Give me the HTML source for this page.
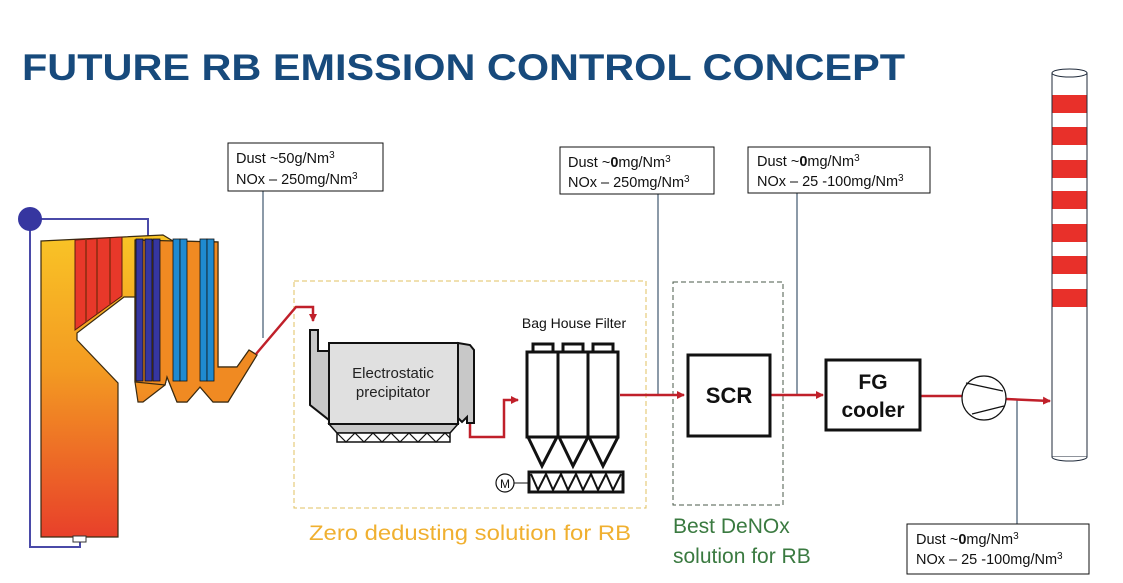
<!DOCTYPE html>
<html><head><meta charset="utf-8"><style>
html,body{margin:0;padding:0;background:#fff;}
svg{display:block;}
text{font-family:"Liberation Sans",Arial,sans-serif;}
</style></head><body>
<svg width="1123" height="583" viewBox="0 0 1123 583" xmlns="http://www.w3.org/2000/svg">
<defs>
<linearGradient id="fg" x1="0" y1="0" x2="0" y2="1">
<stop offset="0" stop-color="#f9c426"/><stop offset="0.45" stop-color="#f39a22"/><stop offset="1" stop-color="#e8402a"/>
</linearGradient>
<marker id="ar" markerWidth="8" markerHeight="8" refX="7" refY="4" orient="auto" markerUnits="userSpaceOnUse"><path d="M0,0 L8,4 L0,8 z" fill="#c0202a"/></marker>
</defs>
<rect width="1123" height="583" fill="#fff"/>
<text x="22" y="80" font-size="37" font-weight="bold" fill="#174a7c" textLength="883" lengthAdjust="spacingAndGlyphs">FUTURE RB EMISSION CONTROL CONCEPT</text>

<polyline points="30,219 148,219 148,238" fill="none" stroke="#4a4aa8" stroke-width="2"/>
<polyline points="30,219 30,547 80,547 80,540" fill="none" stroke="#4a4aa8" stroke-width="2"/>
<circle cx="30" cy="219" r="12" fill="#3636a0"/>
<path d="M41,241 L163,235 L173,241 L218,242 L218,367 L237,367 L249,350 L257,355 L228,402 L213,402 L200,387 L187,402 L177,402 L167,377 L165,385 L143,402 L138,402 L135,382 L135,297 L124,297 L77,333 L77,340 L118,383 L118,537 L41,537 Z" fill="url(#fg)" stroke="#3a2a10" stroke-width="1.2"/>
<path d="M135,297 L135,382 L165,385 L167,377 L177,402 L187,402 L200,387 L213,402 L228,402 L257,355 L249,350 L237,367 L218,367 L218,242 L135,240 Z" fill="#f08a22" stroke="#3a2a10" stroke-width="1.2"/>
<rect x="73" y="536" width="13" height="6" fill="#fff" stroke="#333" stroke-width="1"/>
<path d="M75,240 L122,237 L122,296 L75,330 Z" fill="#e8382a" stroke="#5a1a10" stroke-width="1"/>
<line x1="86" y1="239" x2="86" y2="322" stroke="#8a2a10" stroke-width="1.5"/>
<line x1="97" y1="239" x2="97" y2="314" stroke="#8a2a10" stroke-width="1.5"/>
<line x1="110" y1="238" x2="110" y2="305" stroke="#8a2a10" stroke-width="1.5"/>
<rect x="136" y="239" width="7" height="142" fill="#3636a0" stroke="#111" stroke-width="0.8"/>
<rect x="145" y="239" width="7" height="142" fill="#3636a0" stroke="#111" stroke-width="0.8"/>
<rect x="153" y="239" width="7" height="142" fill="#3636a0" stroke="#111" stroke-width="0.8"/>
<rect x="173" y="239" width="7" height="142" fill="#1f8ad0" stroke="#111" stroke-width="0.8"/>
<rect x="180" y="239" width="7" height="142" fill="#1f8ad0" stroke="#111" stroke-width="0.8"/>
<rect x="200" y="239" width="7" height="142" fill="#1f8ad0" stroke="#111" stroke-width="0.8"/>
<rect x="207" y="239" width="7" height="142" fill="#1f8ad0" stroke="#111" stroke-width="0.8"/>

<g stroke="#1a3550" stroke-width="1" fill="none">
<line x1="263" y1="191" x2="263" y2="338"/>
<line x1="658" y1="194" x2="658" y2="395"/>
<line x1="797" y1="193" x2="797" y2="395"/>
<line x1="1017" y1="399" x2="1017" y2="524"/>
</g>

<rect x="294" y="281" width="352" height="227" fill="none" stroke="#e0c060" stroke-width="1" stroke-dasharray="5,3"/>
<rect x="673" y="282" width="110" height="223" fill="none" stroke="#4a5a4a" stroke-width="1" stroke-dasharray="5,3"/>

<g stroke="#c0202a" stroke-width="2.5" fill="none">
<polyline points="256,354 296,307 313,307 313,321" marker-end="url(#ar)"/>
<polyline points="470,424 470,437 504,437 504,400 518,400" marker-end="url(#ar)"/>
<line x1="620" y1="395" x2="684" y2="395" marker-end="url(#ar)"/>
<line x1="770" y1="395" x2="823" y2="395" marker-end="url(#ar)"/>
<line x1="920" y1="396" x2="962" y2="396"/>
<line x1="1006" y1="399" x2="1050" y2="401" marker-end="url(#ar)"/>
</g>

<path d="M310,330 L318,330 L318,351 L329,351 L329,420 L310,405 Z" fill="#c8c8c8" stroke="#111" stroke-width="2"/>
<path d="M329,424 L458,424 L450,433 L337,433 Z" fill="#c8c8c8" stroke="#111" stroke-width="1.5"/>
<rect x="329" y="343" width="129" height="81" fill="#e0e0e0" stroke="#111" stroke-width="2"/>
<path d="M458,343 L470,345 L474,350 L474,423 L467,423 L467,417 L462,422 L458,418 Z" fill="#c8c8c8" stroke="#111" stroke-width="2"/>
<rect x="337" y="433" width="113" height="9" fill="#fff" stroke="#111" stroke-width="1.5"/>
<polyline points="337,433 346,442 355,433 364,442 373,433 382,442 391,433 400,442 409,433 418,442 427,433 436,442 445,433 450,438" fill="none" stroke="#111" stroke-width="1.2"/>
<text x="393" y="378" font-size="15" text-anchor="middle" fill="#222">Electrostatic</text>
<text x="393" y="397" font-size="15" text-anchor="middle" fill="#222">precipitator</text>

<text x="574" y="328" font-size="14" text-anchor="middle" fill="#111">Bag House Filter</text>
<g stroke="#111" stroke-width="3" fill="#fff">
<rect x="533" y="344" width="20" height="8"/>
<rect x="563" y="344" width="20" height="8"/>
<rect x="593" y="344" width="20" height="8"/>
<rect x="527" y="352" width="91" height="85"/>
<line x1="558" y1="352" x2="558" y2="437"/>
<line x1="588" y1="352" x2="588" y2="437"/>
<polyline points="528,437 542,466 557,437" fill="none"/>
<polyline points="559,437 573,466 588,437" fill="none"/>
<polyline points="589,437 603,466 618,437" fill="none"/>
<rect x="529" y="472" width="94" height="20"/>
</g>
<polyline points="531,474 538,490 546,474 553,490 561,474 568,490 576,474 583,490 591,474 598,490 606,474 613,490 621,474" fill="none" stroke="#111" stroke-width="2"/>
<line x1="514" y1="483" x2="529" y2="483" stroke="#111" stroke-width="1"/>
<circle cx="505" cy="483" r="9" fill="#fff" stroke="#111" stroke-width="1.2"/>
<text x="505" y="488" font-size="12" text-anchor="middle" fill="#111">M</text>

<rect x="688" y="355" width="82" height="81" fill="#fff" stroke="#111" stroke-width="3"/>
<text x="729" y="403" font-size="22" font-weight="bold" text-anchor="middle" fill="#111">SCR</text>
<rect x="826" y="360" width="94" height="70" fill="#fff" stroke="#111" stroke-width="3"/>
<text x="873" y="389" font-size="21" font-weight="bold" text-anchor="middle" fill="#111">FG</text>
<text x="873" y="417" font-size="21" font-weight="bold" text-anchor="middle" fill="#111">cooler</text>

<circle cx="984" cy="398" r="22" fill="#fff" stroke="#111" stroke-width="1.2"/>
<line x1="966" y1="383" x2="1003" y2="391" stroke="#111" stroke-width="1.2"/>
<line x1="972" y1="414" x2="1004" y2="406" stroke="#111" stroke-width="1.2"/>

<rect x="1052" y="73" width="35" height="384" fill="#fff" stroke="#1f2a3a" stroke-width="1"/>
<g fill="#e8302a">
<rect x="1052.5" y="95" width="34" height="18"/>
<rect x="1052.5" y="127" width="34" height="18"/>
<rect x="1052.5" y="160" width="34" height="18"/>
<rect x="1052.5" y="191" width="34" height="18"/>
<rect x="1052.5" y="224" width="34" height="18"/>
<rect x="1052.5" y="256" width="34" height="18"/>
<rect x="1052.5" y="289" width="34" height="18"/>
</g>
<ellipse cx="1069.5" cy="73" rx="17.5" ry="4" fill="#fff" stroke="#1f2a3a" stroke-width="1"/>
<path d="M1052,457 A17.5,4 0 0 0 1087,457" fill="#fff" stroke="#1f2a3a" stroke-width="1"/>

<g fill="#fff" stroke="#111" stroke-width="1">
<rect x="228" y="143" width="155" height="48"/>
<rect x="560" y="147" width="154" height="47"/>
<rect x="748" y="147" width="182" height="46"/>
<rect x="907" y="524" width="182" height="50"/>
</g>
<g font-size="14.5" fill="#111">
<text x="236" y="163">Dust ~50g/Nm<tspan font-size="10" dy="-5">3</tspan></text>
<text x="236" y="184">NOx – 250mg/Nm<tspan font-size="10" dy="-5">3</tspan></text>
<text x="568" y="167">Dust ~<tspan font-weight="bold">0</tspan>mg/Nm<tspan font-size="10" dy="-5">3</tspan></text>
<text x="568" y="187">NOx – 250mg/Nm<tspan font-size="10" dy="-5">3</tspan></text>
<text x="757" y="166">Dust ~<tspan font-weight="bold">0</tspan>mg/Nm<tspan font-size="10" dy="-5">3</tspan></text>
<text x="757" y="186">NOx – 25 -100mg/Nm<tspan font-size="10" dy="-5">3</tspan></text>
<text x="916" y="544">Dust ~<tspan font-weight="bold">0</tspan>mg/Nm<tspan font-size="10" dy="-5">3</tspan></text>
<text x="916" y="564">NOx – 25 -100mg/Nm<tspan font-size="10" dy="-5">3</tspan></text>
</g>

<text x="309" y="540" font-size="21" fill="#f0b030" textLength="322" lengthAdjust="spacingAndGlyphs">Zero dedusting solution for RB</text>
<text x="673" y="533" font-size="21" fill="#3a7a40">Best DeNOx</text>
<text x="673" y="563" font-size="21" fill="#3a7a40">solution for RB</text>
</svg>
</body></html>
